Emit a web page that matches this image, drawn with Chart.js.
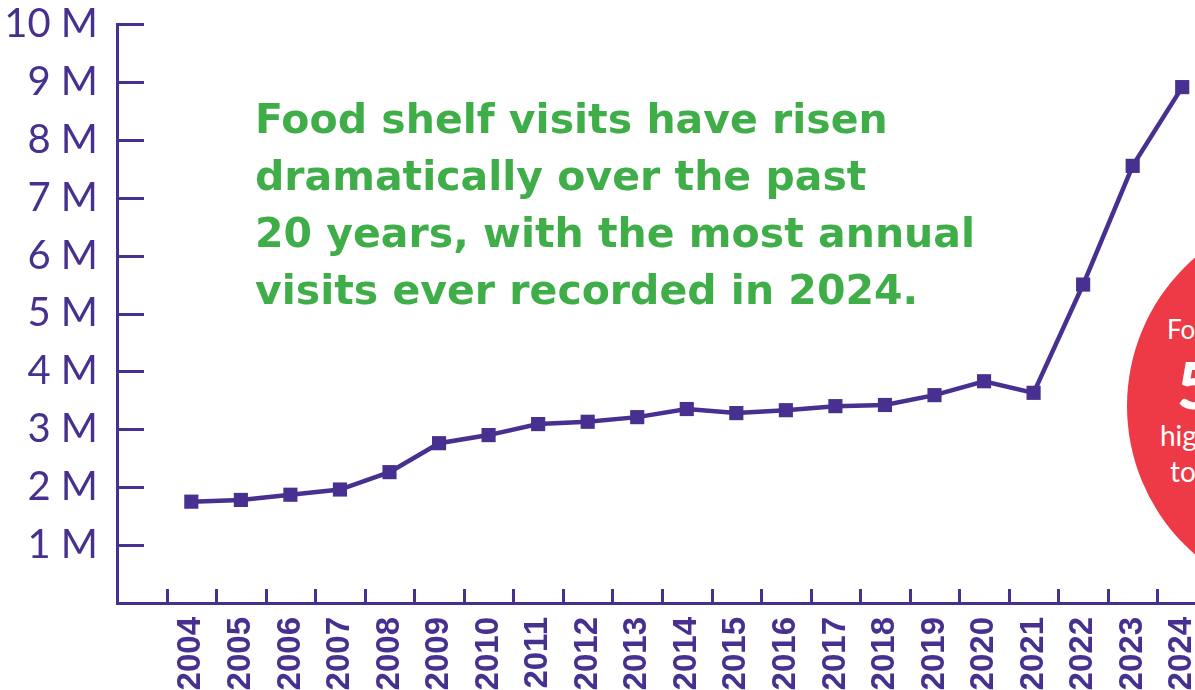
<!DOCTYPE html>
<html>
<head>
<meta charset="utf-8">
<script src="https://cdn.jsdelivr.net/npm/chart.js@4/dist/chart.umd.min.js"></script>
<style>
  html, body { margin: 0; padding: 0; background: #fff; overflow: hidden; }
  #wrap { position: relative; width: 1195px; height: 690px; overflow: hidden; }
  #box { position: absolute; left: 0; top: 0; width: 1217px; height: 690px; }
  #headline {
    position: absolute; left: 255px; top: 91px;
    font-family: "DejaVu Sans", sans-serif; font-weight: bold;
    font-size: 41px; line-height: 57px; color: #3fae49;
  }
  #bubble {
    position: absolute; left: 1127px; top: 210px; width: 392px; height: 392px;
    border-radius: 50%; background: #ee3a46;
  }
  .bl { position: absolute; color: #fff; font-family: Lato, "Open Sans", sans-serif; white-space: nowrap; }
</style>
</head>
<body>
<div id="wrap">
  <div id="bubble"></div>
  <div class="bl" style="left:1167px;top:313px;font-size:26px;">Food shelf visits were</div>
  <div class="bl" style="left:1177px;top:346px;font-size:64px;font-weight:900;">55%</div>
  <div class="bl" style="left:1160px;top:418px;font-size:28px;">higher in 2024</div>
  <div class="bl" style="left:1170px;top:454px;font-size:28px;">total visits</div>
  <div id="box"><canvas id="chart"></canvas></div>
  <div id="headline">Food shelf visits have risen<br>dramatically over the past<br>20 years, with the most annual<br>visits ever recorded in 2024.</div>
</div>
<script>
// annual food shelf visits (first slot is an empty category, as in the original)
var years = ['', '2004', '2005', '2006', '2007', '2008', '2009', '2010', '2011', '2012', '2013',
  '2014', '2015', '2016', '2017', '2018', '2019', '2020', '2021', '2022', '2023', '2024'];
var visits = [null, 1750000, 1780000, 1870000, 1960000, 2260000, 2760000, 2900000, 3090000, 3130000, 3210000,
  3350000, 3280000, 3330000, 3400000, 3420000, 3590000, 3830000, 3630000, 5500000, 7550000, 8910000];
var yTicks = [1000000, 2000000, 3000000, 4000000, 5000000, 6000000, 7000000, 8000000, 9000000, 10000000];

var purple = '#47308f';

// short tick marks drawn inward from both axes
var innerTicks = {
  id: 'innerTicks',
  afterDraw: function(chart) {
    var ctx = chart.ctx, area = chart.chartArea;
    var xs = chart.scales.x, ys = chart.scales.y;
    ctx.save();
    ctx.strokeStyle = purple;
    ctx.lineWidth = 3;
    ctx.beginPath();
    yTicks.forEach(function(v) {
      var py = Math.round(ys.getPixelForValue(v)) + 0.5;
      ctx.moveTo(area.left, py);
      ctx.lineTo(area.left + 27, py);
    });
    for (var i = 1; i < years.length; i++) {
      var px = Math.round((xs.getPixelForValue(i - 1) + xs.getPixelForValue(i)) / 2) + 0.5;
      ctx.moveTo(px, area.bottom);
      ctx.lineTo(px, area.bottom - 14);
    }
    ctx.stroke();
    ctx.restore();
  }
};

new Chart(document.getElementById('chart'), {
  type: 'line',
  data: {
    labels: years,
    datasets: [{
      data: visits,
      borderColor: purple,
      backgroundColor: purple,
      borderWidth: 4.5,
      tension: 0,
      pointStyle: 'rect',
      pointRadius: 10,
      pointHoverRadius: 10,
      pointBorderWidth: 0
    }]
  },
  options: {
    responsive: true,
    maintainAspectRatio: false,
    animation: false,
    layout: { padding: { top: 24, right: 0, bottom: 0, left: 0 } },
    plugins: { legend: { display: false }, tooltip: { enabled: false } },
    scales: {
      x: {
        offset: true,
        grid: { display: false, drawTicks: false },
        border: { display: true, color: purple, width: 3 },
        ticks: {
          autoSkip: false, maxRotation: 90, minRotation: 90, padding: 14,
          color: purple,
          font: { family: '"Liberation Sans", Arial, sans-serif', weight: 'bold', size: 33 }
        },
        afterFit: function(s) {
          s.height = 87;
          s.paddingLeft = 0;
          s.paddingRight = 0;
        }
      },
      y: {
        min: 0, max: 10000000,
        grid: { display: false, drawTicks: false },
        border: { display: true, color: purple, width: 3 },
        afterBuildTicks: function(s) {
          s.ticks = yTicks.map(function(v) { return { value: v }; });
        },
        ticks: {
          padding: 19,
          color: purple,
          font: { family: 'Lato, "Open Sans", sans-serif', size: 40 },
          callback: function(v) { return (v / 1000000) + ' M'; }
        },
        afterFit: function(s) {
          s.width = 117;
          s.paddingTop = 0;
          s.paddingBottom = 0;
        }
      }
    }
  },
  plugins: [innerTicks]
});
</script>
</body>
</html>
